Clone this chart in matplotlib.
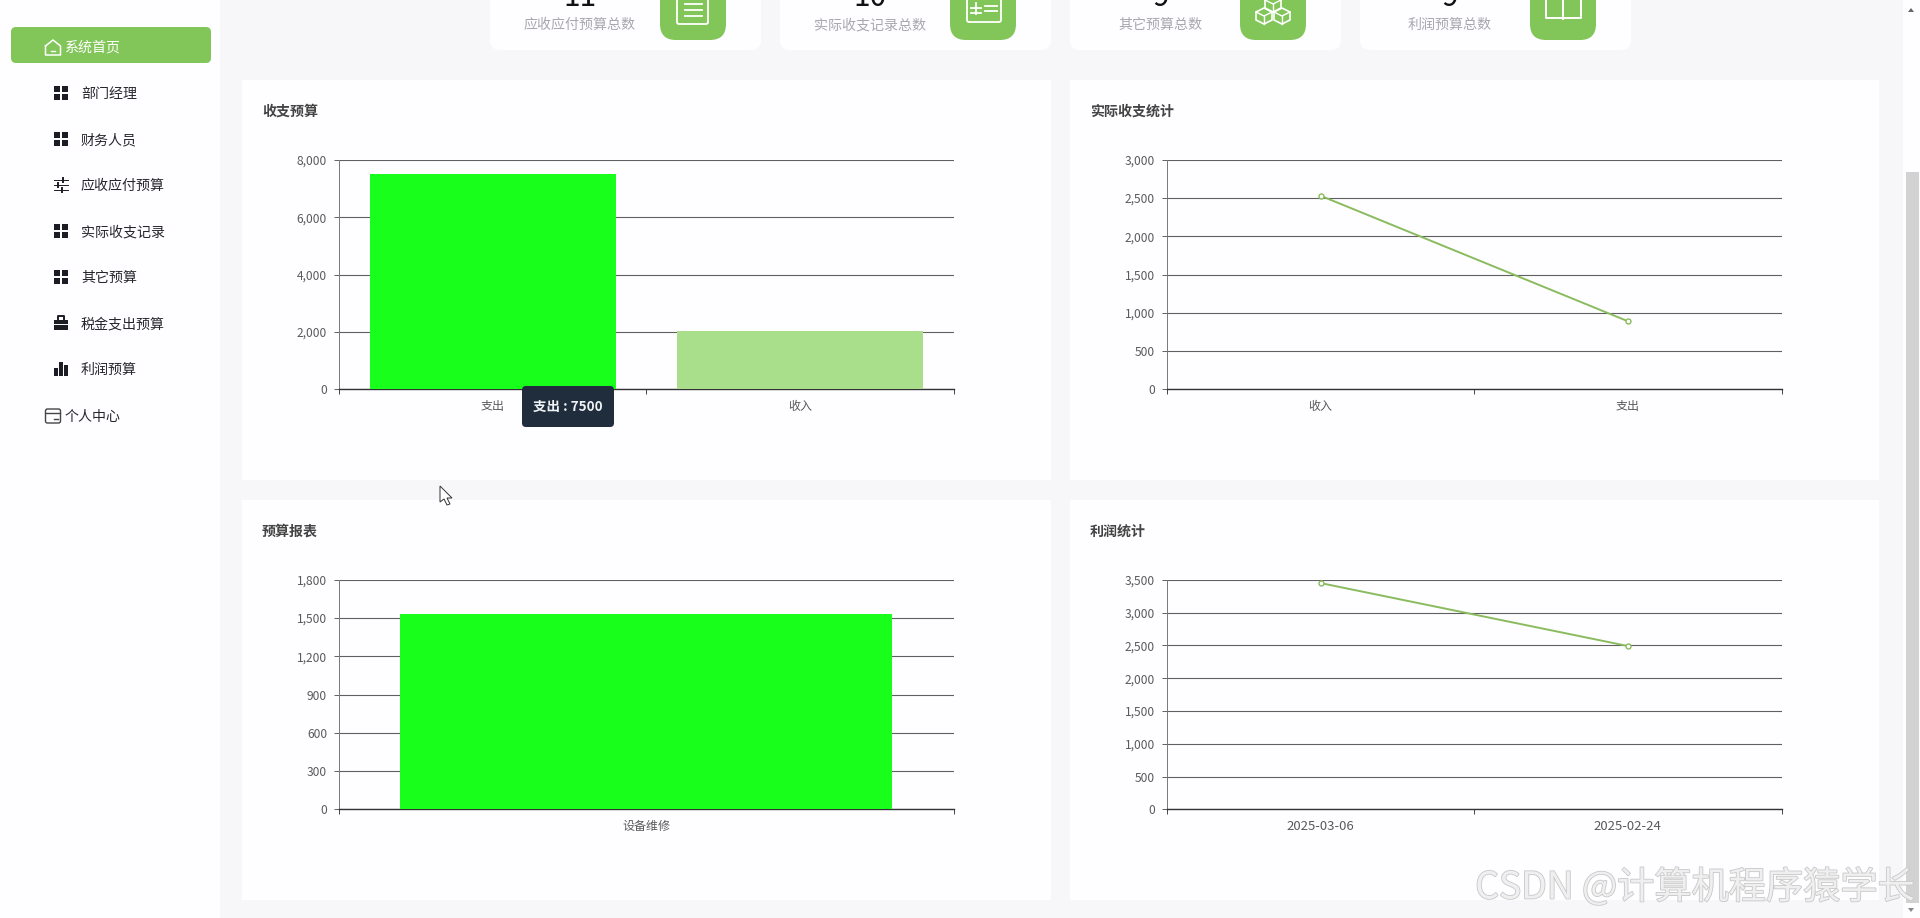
import matplotlib
matplotlib.use('Agg')
import matplotlib.pyplot as plt
import matplotlib.patheffects as pe
from matplotlib.patches import FancyBboxPatch, Rectangle, Polygon

plt.rcParams['font.family'] = ['Noto Sans CJK SC', 'DejaVu Sans']

W, H = 1920, 918
PX = 0.72  # px -> pt at dpi 100

# menu
menu_top = '系统首页'
menu_items = ['部门经理', '财务人员', '应收应付预算', '实际收支记录', '其它预算', '税金支出预算', '利润预算']
menu_bottom = '个人中心'

# stat cards
card_labels = ['应收应付预算总数', '实际收支记录总数', '其它预算总数', '利润预算总数']
card_numbers = ['11', '10', '9', '9']

# charts
budget_cats = ['支出', '收入']
budget_vals = [7500, 2030]
budget_ticks = [0, 2000, 4000, 6000, 8000]

actual_cats = ['收入', '支出']
actual_vals = [2530, 890]
actual_ticks = [0, 500, 1000, 1500, 2000, 2500, 3000]

report_cats = ['设备维修']
report_vals = [1530]
report_ticks = [0, 300, 600, 900, 1200, 1500, 1800]

profit_cats = ['2025-03-06', '2025-02-24']
profit_vals = [3450, 2490]
profit_ticks = [0, 500, 1000, 1500, 2000, 2500, 3000, 3500]

GREEN = '#82c65a'
BAR = '#17ff1a'
BAR_LIGHT = '#a9de8b'
LINE = '#8abb5e'
BG = '#f7f7f9'
CARD = '#fefdff'
GRID = '#606060'
TXT = '#5a5a5a'

fig = plt.figure(figsize=(W / 100, H / 100), dpi=100, facecolor=BG)


def pixel_axes(z):
    ax = fig.add_axes([0, 0, 1, 1], zorder=z)
    ax.set_xlim(0, W)
    ax.set_ylim(H, 0)
    ax.axis('off')
    return ax


def rbox(ax, x0, y0, x1, y1, r, **kw):
    ax.add_patch(FancyBboxPatch((x0 + r, y0 + r), x1 - x0 - 2 * r, y1 - y0 - 2 * r,
                                boxstyle=f'round,pad={r},rounding_size={r}', lw=kw.pop('lw', 0), **kw))


def chart_axes(x0, y0, x1, y1):
    ax = fig.add_axes([x0 / W, 1 - y1 / H, (x1 - x0) / W, (y1 - y0) / H], zorder=2)
    ax.patch.set_alpha(0)
    for s in ['top', 'right']:
        ax.spines[s].set_visible(False)
    ax.spines['left'].set_color('#777777')
    ax.spines['left'].set_linewidth(0.7)
    ax.spines['bottom'].set_color('#333333')
    ax.spines['bottom'].set_linewidth(1.0)
    return ax


def style_axes(ax, cats, yticks, xsize=12):
    n = len(cats)
    ax.set_xlim(-0.5, n - 0.5)
    ax.set_ylim(yticks[0], yticks[-1])
    ax.set_yticks(yticks, [f'{t:,}' for t in yticks])
    ax.set_xticks(range(n), cats)
    ax.set_xticks([i - 0.5 for i in range(n + 1)], minor=True)
    ax.tick_params(axis='x', which='major', length=0, pad=8, labelsize=xsize * PX, labelcolor=TXT)
    ax.tick_params(axis='x', which='minor', length=5 * PX, width=0.7, color='#444444')
    ax.tick_params(axis='y', length=5 * PX, width=0.7, color=GRID, pad=5, labelsize=12 * PX, labelcolor=TXT)
    ax.grid(axis='y', color=GRID, lw=0.8)
    ax.set_axisbelow(True)


def bar_chart(box, cats, vals, ticks, colors):
    ax = chart_axes(*box)
    ax.bar(range(len(cats)), vals, width=0.8, color=colors, zorder=3)
    style_axes(ax, cats, ticks)
    return ax


def line_chart(box, cats, vals, ticks, xsize=12):
    ax = chart_axes(*box)
    ax.plot(range(len(cats)), vals, color=LINE, lw=1.4, marker='o', ms=3.6, mfc='white', mec=LINE, mew=1.0, zorder=3)
    style_axes(ax, cats, ticks, xsize)
    return ax


bg = pixel_axes(0)
fg = pixel_axes(5)

# sidebar
bg.add_patch(Rectangle((0, 0), 220, H, fc=CARD, lw=0))
rbox(bg, 11, 27, 211, 63, 5, fc=GREEN)
bg.text(65, 48, menu_top, color='white', fontsize=14 * PX, va='center')
bg.plot([45.5, 53, 60.5, 60.5, 45.5, 45.5], [46, 40, 46, 55, 55, 46], color='white', lw=1.1)
bg.plot([51, 55], [51, 51], color='white', lw=1)

menu_y = [94, 140, 186, 232, 278, 324, 370]
menu_icons = ['grid', 'grid', 'slider', 'grid', 'grid', 'case', 'bars']
ICON = '#1c1c24'
for label, y, kind in zip(menu_items, menu_y, menu_icons):
    bg.text(81, y, label, color='#26262c', fontsize=14 * PX, va='center')
    icon_y = y - 1
    if kind == 'grid':
        for dx in (54, 62):
            for dy in (-7, 1):
                bg.add_patch(Rectangle((dx, icon_y + dy), 6, 6, fc=ICON, lw=0))
    elif kind == 'slider':
        for dy in (-5, 0, 5):
            bg.plot([54, 68], [icon_y + dy, icon_y + dy], color=ICON, lw=0.7)
        bg.plot([63, 63], [icon_y - 7, icon_y - 3], color=ICON, lw=1.4)
        bg.plot([58, 58], [icon_y - 2, icon_y + 2], color=ICON, lw=1.4)
        bg.plot([62, 62], [icon_y + 3, icon_y + 7], color=ICON, lw=1.4)
    elif kind == 'case':
        bg.add_patch(Rectangle((54, icon_y - 3), 14, 10, fc=ICON, lw=0))
        bg.plot([58, 58, 64, 64], [icon_y - 3, icon_y - 7, icon_y - 7, icon_y - 3], color=ICON, lw=1.4)
        bg.plot([54, 68], [icon_y + 1, icon_y + 1], color='white', lw=0.7)
    else:
        for bx, bt in zip((54, 59, 64), (-1, -7, -4)):
            bg.add_patch(Rectangle((bx, icon_y + bt), 3.6, 7 - bt, fc=ICON, lw=0))

bg.text(65, 417, menu_bottom, color='#26262c', fontsize=14 * PX, va='center')
rbox(bg, 45.5, 409, 60.5, 423, 2, fc='none', ec='#444444', lw=1)
bg.plot([46, 60], [413, 413], color='#444444', lw=1)
bg.plot([54, 58], [419, 419], color='#444444', lw=1)

# stat cards, cut off by the top of the page
card_x = [(490, 761), (780, 1051), (1070, 1341), (1360, 1631)]
icon_x = [(660, 726), (950, 1016), (1240, 1306), (1530, 1596)]
label_cx = [580, 870, 1160.5, 1450]
for (x0, x1), (ix0, ix1), cx, label, num in zip(card_x, icon_x, label_cx, card_labels, card_numbers):
    rbox(bg, x0, -30, x1, 50, 10, fc=CARD)
    rbox(bg, ix0, -30, ix1, 40, 16, fc=GREEN)
    bg.text(cx, 25, label, color='#a8a8ae', fontsize=14 * PX, ha='center', va='center')
    bg.text(cx, 6.5, num, color='#111111', fontsize=30 * PX, ha='center', va='baseline', clip_on=True)

# card icons
rbox(bg, 677, -8, 708, 24, 2, fc='none', ec='white', lw=1.3)
for y in (4, 10, 16):
    bg.plot([685, 702], [y, y], color='white', lw=1.3)
rbox(bg, 967, -8, 1001, 22, 2, fc='none', ec='white', lw=1.3)
bg.plot([971, 981], [8, 8], color='white', lw=1.3)
bg.plot([976, 976], [3, 14], color='white', lw=1.3)
bg.plot([971, 981], [13, 13], color='white', lw=1.3)
bg.plot([985, 997], [6, 6], color='white', lw=1.3)
bg.plot([985, 997], [11, 11], color='white', lw=1.3)
for cx, cy in [(1264, 16), (1282, 16), (1273, 4)]:
    bg.add_patch(Polygon([(cx, cy - 8), (cx + 8, cy - 4), (cx + 8, cy + 4), (cx, cy + 8), (cx - 8, cy + 4), (cx - 8, cy - 4)],
                         closed=True, fc='none', ec='white', lw=1.2))
    bg.plot([cx - 8, cx, cx + 8], [cy - 4, cy, cy - 4], color='white', lw=1.0)
    bg.plot([cx, cx], [cy, cy + 8], color='white', lw=1.0)
bg.plot([1546, 1546, 1563, 1581, 1581], [-4, 18, 18, 18, -4], color='white', lw=1.4)
bg.plot([1563, 1563], [-4, 19], color='white', lw=1.4)

# chart cards
panels = [(242, 80, 1051, 480, '收支预算', 262, 112),
          (1070, 80, 1879, 480, '实际收支统计', 1090, 112),
          (242, 500, 1051, 900, '预算报表', 262, 532),
          (1070, 500, 1879, 900, '利润统计', 1090, 532)]
for x0, y0, x1, y1, title, tx, ty in panels:
    bg.add_patch(Rectangle((x0, y0), x1 - x0, y1 - y0, fc=CARD, lw=0))
    bg.text(tx, ty, title, color='#444444', fontsize=14 * PX, fontweight='bold', va='center')

bar_chart((339, 159.8, 953.5, 389.3), budget_cats, budget_vals, budget_ticks, [BAR, BAR_LIGHT])
line_chart((1167, 159.8, 1781.5, 389.3), actual_cats, actual_vals, actual_ticks)
bar_chart((339, 579.8, 953.5, 809.3), report_cats, report_vals, report_ticks, [BAR])
line_chart((1167, 579.8, 1781.5, 809.3), profit_cats, profit_vals, profit_ticks, xsize=13.2)

# scrollbar
bg.add_patch(Rectangle((1903, 0), 17, H, fc=CARD, lw=0))
bg.add_patch(Rectangle((1906, 172), 13, 731, fc='#d2d2d2', lw=0))
bg.add_patch(Polygon([(1908, 12), (1914, 12), (1911, 8)], closed=True, fc='#666666', lw=0))
bg.add_patch(Polygon([(1908, 908), (1914, 908), (1911, 912)], closed=True, fc='#888888', lw=0))

# tooltip, cursor, watermark
rbox(fg, 522, 386, 614, 427, 4, fc='#1f2d3d')
fg.text(568, 407, f'{budget_cats[0]} : {budget_vals[0]}', color='#f0f2f5', fontsize=13.5 * PX, fontweight='bold',
        ha='center', va='center')
fg.add_patch(Polygon([(440, 486), (440, 502), (444, 499), (447, 505), (450, 504), (447, 498), (452, 498)],
                     closed=True, fc='white', ec='#333333', lw=0.7))
fg.text(1915, 888, 'CSDN @计算机程序猿学长', color='#efefef', fontsize=37.2 * PX, ha='right', va='center',
        path_effects=[pe.withStroke(linewidth=1.2, foreground='#c8c8c8')])

fig.savefig('out.png', dpi=100, facecolor=BG)
